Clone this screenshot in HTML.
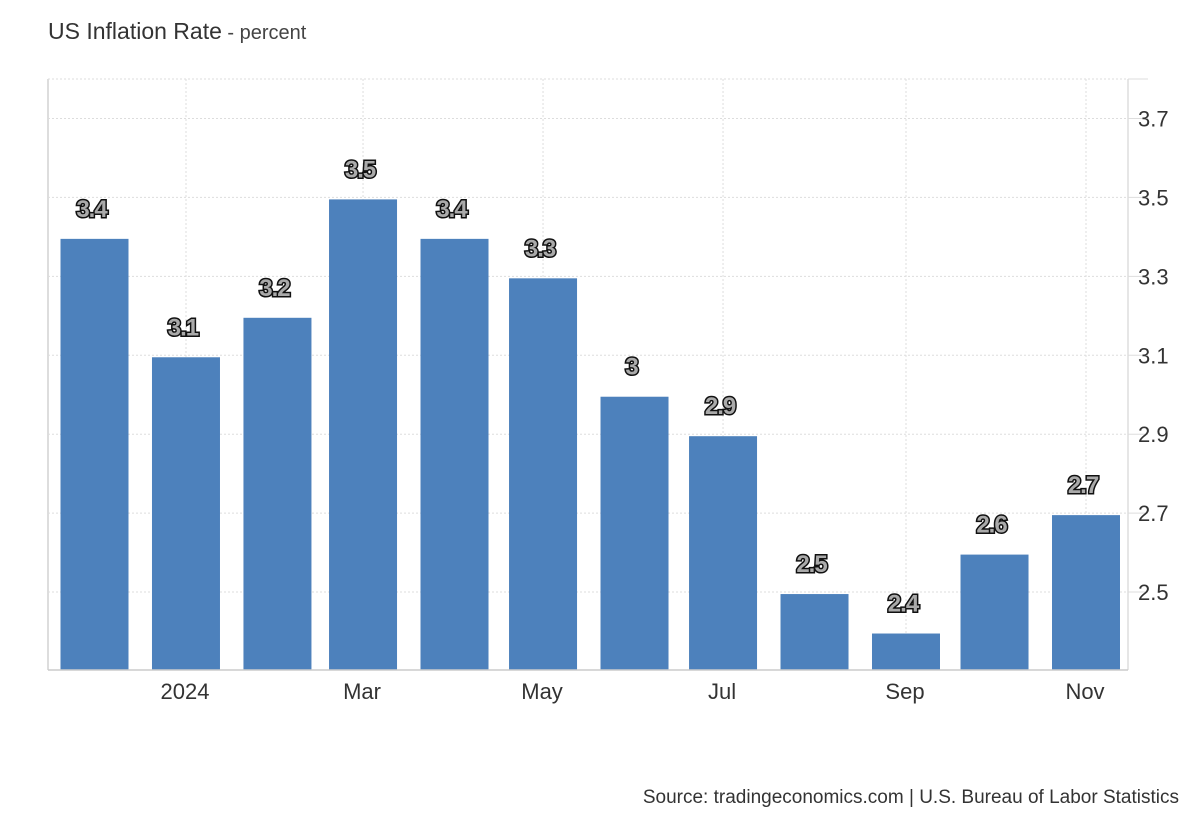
<!DOCTYPE html>
<html><head><meta charset="utf-8"><style>
body{margin:0;background:#fff;width:1200px;height:820px;overflow:hidden}
svg{font-family:"Liberation Sans",sans-serif}
</style></head><body>
<svg width="1200" height="820">
<text x="48" y="39" font-size="23" fill="#333">US Inflation Rate<tspan font-size="20" fill="#444"> - percent</tspan></text>
<g id="grid"></g>
<g id="bars"></g>
<g id="labels"></g>
<g id="axes"></g>
<text x="1179" y="803" font-size="19" fill="#333" text-anchor="end">Source: tradingeconomics.com | U.S. Bureau of Labor Statistics</text>
</svg>
<script>
const months=["2023-12","2024-01","2024-02","2024-03","2024-04","2024-05","2024-06","2024-07","2024-08","2024-09","2024-10","2024-11"];
const values=[3.4,3.1,3.2,3.5,3.4,3.3,3.0,2.9,2.5,2.4,2.6,2.7];
const valueLabels=["3.4","3.1","3.2","3.5","3.4","3.3","3","2.9","2.5","2.4","2.6","2.7"];
const yTicks=[2.5,2.7,2.9,3.1,3.3,3.5,3.7];
const xTickMonths=["2024-01","2024-03","2024-05","2024-07","2024-09","2024-11"];
const xTickLabels=["2024","Mar","May","Jul","Sep","Nov"];
const ns="http://www.w3.org/2000/svg";
const L=48,R=1128,T=79,B=670,yMin=2.3025,yMax=3.8;
const d0=Date.UTC(2023,11,1),pxPerDay=991.5/336;
function dayOf(m){const[a,b]=m.split("-").map(Number);return (Date.UTC(a,b-1,1)-d0)/864e5;}
function x(m){return 94.5+dayOf(m)*pxPerDay;}
function y(v){return B-(v-yMin)/(yMax-yMin)*(B-T);}
function el(t,a,p){const e=document.createElementNS(ns,t);for(const k in a)e.setAttribute(k,a[k]);p.appendChild(e);return e;}
const grid=document.getElementById("grid"),bars=document.getElementById("bars"),labels=document.getElementById("labels"),axes=document.getElementById("axes");
el("line",{x1:L,x2:R,y1:T,y2:T,stroke:"#ddd","stroke-dasharray":"2,2"},grid);
yTicks.forEach(v=>{
 const l=el("line",{x1:L,x2:R,y1:y(v),y2:y(v),stroke:"#ddd","stroke-dasharray":"2,2"},grid);
 
 
 el("line",{x1:R,x2:R+20,y1:y(v),y2:y(v),stroke:"#ddd"},axes);
 const t=el("text",{x:1138,y:y(v)+8,"font-size":22,fill:"#333"},axes);t.textContent=v.toFixed(1);
 
 
});
el("line",{x1:R,x2:R+20,y1:T,y2:T,stroke:"#ddd"},axes);
xTickMonths.forEach((m,i)=>{
 const l=el("line",{x1:x(m),x2:x(m),y1:T,y2:B,stroke:"#ddd","stroke-dasharray":"2,2"},grid);
 
 
 const t=el("text",{x:x(m)-1,y:699,"font-size":22,fill:"#333","text-anchor":"middle"},axes);t.textContent=xTickLabels[i];
 
 
});
months.forEach((m,i)=>{
 const cx=x(m),yt=y(values[i])+2;
 const r=el("rect",{x:cx-34,y:yt,width:68,height:B-yt,fill:"#4d81bc"},bars);
 
 
 const t=el("text",{x:cx-3,y:yt-22,"font-size":24,"font-weight":"bold",fill:"#aaa",stroke:"#111","stroke-width":3,"paint-order":"stroke","text-anchor":"middle","letter-spacing":"-1"},labels);
 t.textContent=valueLabels[i];
 
 
});
el("line",{x1:L,x2:L,y1:T,y2:B,stroke:"#ddd","stroke-width":2},axes);
el("line",{x1:R,x2:R,y1:T,y2:B,stroke:"#ddd","stroke-width":1.5},axes);
el("line",{x1:L,x2:R,y1:B,y2:B,stroke:"#ccc","stroke-width":1.5},axes);
</script>
</body></html>
